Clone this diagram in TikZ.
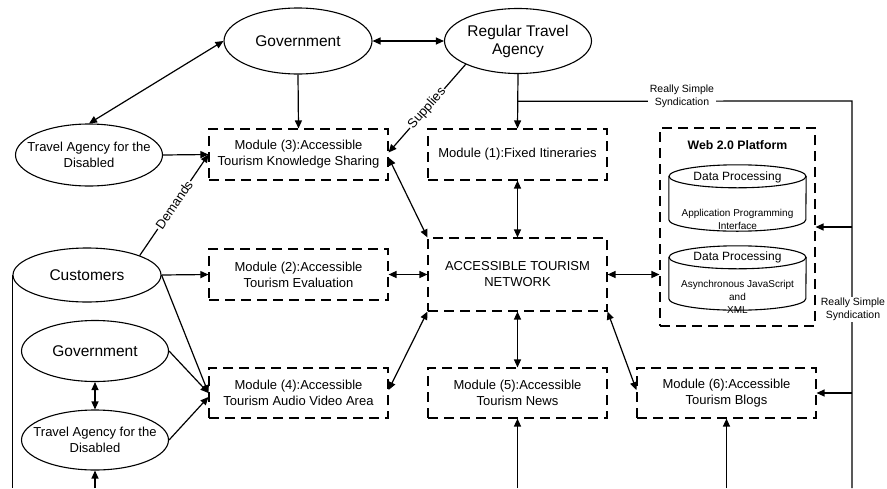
\documentclass[tikz,border=0pt]{standalone}
\usepackage{fontspec}
\setmainfont{Liberation Sans}
\usetikzlibrary{arrows.meta,calc,shapes.geometric}
\begin{document}
\begin{tikzpicture}[x=1pt,y=-1pt,
  ell/.style={ellipse,draw,line width=1.1pt,inner sep=0pt},
  elltxt/.style={inner sep=0pt,align=center,font=\fontsize{15.5}{18}\selectfont},
  tadtxt/.style={inner sep=0pt,align=center,font=\fontsize{13}{15.5}\selectfont},
  mod/.style={draw,line width=1.1pt,dash pattern=on 10pt off 6pt,minimum width=179,minimum height=51,inner sep=0pt,align=center,font=\fontsize{13}{16}\selectfont},
  conn/.style={line width=1.2pt,>={Triangle[length=8pt,width=7pt]}},
  sl/.style={sloped,fill=white,inner sep=1pt,font=\fontsize{13}{15}\selectfont},
  rss/.style={fill=white,inner sep=1.5pt,align=center,font=\fontsize{10.5}{12.5}\selectfont},
  cylbox/.style={draw=none,minimum width=137,inner sep=0pt},
  cyl/.style={line width=1.1pt},
  cyltitle/.style={inner sep=0pt,font=\fontsize{12}{14}\selectfont},
  cyltxt/.style={inner sep=0pt,align=center,font=\fontsize{10}{13}\selectfont}
]
\useasboundingbox (0,0) rectangle (887,488);

% ellipses
\node[ell,minimum width=148,minimum height=66] (gov1) at (298,41) {};
\node[elltxt] (gov1t) at (gov1) {Government};
\node[ell,minimum width=147,minimum height=65] (rta) at (518,41) {};
\node[elltxt] (rtat) at (rta) {Regular Travel\\Agency};
\node[ell,minimum width=147,minimum height=62] (tad1) at (89,155) {};
\node[tadtxt] (tad1t) at (tad1) {Travel Agency for the\\Disabled};
\node[ell,minimum width=148,minimum height=54] (cust) at (87,275) {};
\node[elltxt] (custt) at (cust) {Customers};
\node[ell,minimum width=147,minimum height=61] (gov2) at (95,351) {};
\node[elltxt] (gov2t) at (gov2) {Government};
\node[ell,minimum width=147,minimum height=60] (tad2) at (95,440) {};
\node[tadtxt] (tad2t) at (tad2) {Travel Agency for the\\Disabled};

% modules
\node[mod] (m3) at (298.5,154.5) {Module (3):Accessible\\Tourism Knowledge Sharing};
\node[mod] (m1) at (517.5,154.5) {Module (1):Fixed Itineraries};
\node[mod] (m2) at (298.5,274.5) {Module (2):Accessible\\Tourism Evaluation};
\node[mod,minimum height=73] (atn) at (517.5,274.5) {ACCESSIBLE TOURISM\\NETWORK};
\node[mod,minimum height=50] (m4) at (298.5,393) {Module (4):Accessible\\Tourism Audio Video Area};
\node[mod,minimum height=50] (m5) at (517.5,393) {Module (5):Accessible\\Tourism News};
\node[mod,minimum height=50] (m6) at (726.5,393) {Module (6):Accessible\\Tourism Blogs};

% web platform
\node[mod,minimum width=155,minimum height=198] (web) at (737.5,227) {};
\node[inner sep=0pt,font=\bfseries\fontsize{12.3}{14}\selectfont] (webt) at (737.5,145) {Web 2.0 Platform};

\node[cylbox,minimum height=66] (c1) at (737.5,198) {};
\draw[cyl] ($(c1.north)+(0,11.5)$) ellipse [x radius=68.5,y radius=11.5];
\draw[cyl] ($(c1.north west)+(0,11.5)$) -- ($(c1.south west)+(0,-11.5)$) arc[start angle=180,end angle=0,x radius=68.5,y radius=11.5] -- ($(c1.north east)+(0,11.5)$);
\node[cyltitle] (c1t) at (737.5,177) {Data Processing};
\node[cyltxt] (c1b) at (737.5,219) {Application Programming\\Interface};

\node[cylbox,minimum height=64] (c2) at (737.5,278) {};
\draw[cyl] ($(c2.north)+(0,11.5)$) ellipse [x radius=68.5,y radius=11.5];
\draw[cyl] ($(c2.north west)+(0,11.5)$) -- ($(c2.south west)+(0,-11.5)$) arc[start angle=180,end angle=0,x radius=68.5,y radius=11.5] -- ($(c2.north east)+(0,11.5)$);
\node[cyltitle] (c2t) at (737.5,257) {Data Processing};
\node[cyltxt] (c2b) at (737.5,297) {Asynchronous JavaScript\\and\\XML};

% coordinates
\coordinate (j) at ($(rta.south)!0.5!(m1.north)$);
\coordinate (railtop) at (852,101);
\coordinate (railbot) at (852,488);

% connectors
\draw[conn,<->] (gov1.east) -- (gov1.east -| rta.west);
\draw[conn,<->] (gov1.west) -- (tad1.north);
\draw[conn,->] (gov1.south) -- (m3.north);
\draw[conn,->] (tad1.east) -- (m3.west);
\draw[conn,->] (cust.north east) -- node[sl]{Demands} (m3.west);
\draw[conn,->] (rta.south west) -- node[sl]{Supplies} ($(m3.east)+(0,-2)$);
\draw[conn,<->] ($(m3.east)+(0,3)$) -- (atn.north west);
\draw[conn,->] (rta.south) -- (m1.north);
\draw[conn] (j) -- (railtop) -- (railbot);
\draw[conn,<->] (m1.south) -- (atn.north);
\draw[conn,->] (cust.east) -- (m2.west);
\draw[conn,<->] (m2.east) -- (atn.west);
\draw[conn,<->] (atn.east) -- (atn.east -| web.west);
\draw[conn,<->] (atn.south west) -- ($(m4.east)+(0,-3)$);
\draw[conn,<->] (atn.south) -- (m5.north);
\draw[conn,<->] (atn.south east) -- ($(m6.west)+(0,-3)$);
\draw[conn,->] (cust.east) -- (m4.west);
\draw[conn,->] (gov2.east) -- (m4.west);
\draw[conn,->] (tad2.east) -- ($(m4.west)+(0,4)$);
\draw[conn,<->] (gov2.south) -- (tad2.north);
\draw[conn] (cust.west) -- (cust.west |- railbot);
\draw[conn,->] (tad2.south |- railbot) -- (tad2.south);
\draw[conn,->] (m5.south |- railbot) -- (m5.south);
\draw[conn,->] (m6.south |- railbot) -- (m6.south);
\draw[conn,->] (railtop |- web.east) -- (web.east);
\draw[conn,->] (railtop |- m6.east) -- (m6.east);

\node[rss] (rss1) at (682,96.5) {Really Simple\\Syndication};
\node[rss] (rss2) at (853,309.5) {Really Simple\\Syndication};
\end{tikzpicture}
\end{document}
